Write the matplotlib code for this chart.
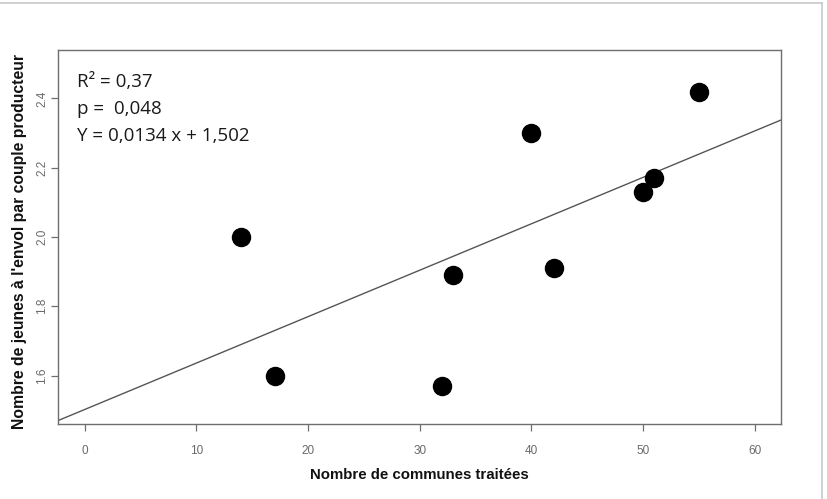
"""Scatter of fledglings per productive pair vs number of treated communes."""

import matplotlib

matplotlib.use("Agg")
import matplotlib.pyplot as plt
from matplotlib.lines import Line2D

# data
communes = [14, 17, 32, 33, 40, 42, 50, 51, 55]
jeunes = [2.00, 1.60, 1.57, 1.89, 2.30, 1.91, 2.13, 2.17, 2.42]

slope = 0.0134
intercept = 1.502
stats_lines = ["R² = 0,37", "p =  0,048", "Y = 0,0134 x + 1,502"]

x_ticks = [0, 10, 20, 30, 40, 50, 60]
y_ticks = [1.6, 1.8, 2.0, 2.2, 2.4]

xlabel = "Nombre de communes traitées"
ylabel = "Nombre de jeunes à l'envol par couple producteur"

axis_grey = "#6e6e6e"
tick_grey = "#6a6a6a"

W, H = 827, 499
fig = plt.figure(figsize=(W / 100, H / 100), dpi=100)
ax = fig.add_axes([58 / W, 1 - 424 / H, (781.3 - 58) / W, (424 - 50) / H])

ax.plot(communes, jeunes, "o", color="black", markersize=13, zorder=3)
ax.axline((0, intercept), slope=slope, color="#555555", linewidth=1.0, zorder=2)

# R-style 4 % padding around (0, 60) and (1.5, 2.5)
ax.set_xlim(-2.4, 62.4)
ax.set_ylim(1.46, 2.54)

ax.set_xticks(x_ticks)
ax.set_yticks(y_ticks)
ax.set_xticklabels([str(t) for t in x_ticks])
ax.set_yticklabels([f"{t:.1f}" for t in y_ticks], rotation=90, va="center")

for side in ax.spines.values():
    side.set_color(axis_grey)
    side.set_linewidth(1.0)

ax.tick_params(axis="both", direction="out", length=5, width=0.9, color=axis_grey,
               labelcolor=tick_grey, labelsize=8.5)
ax.tick_params(axis="x", pad=10)
ax.tick_params(axis="y", pad=2)
for lab in ax.get_xticklabels() + ax.get_yticklabels():
    lab.set_family("Liberation Sans")

ax.set_xlabel(xlabel, family="Liberation Sans", fontweight="bold", fontsize=10.8,
              labelpad=8, color="#111111")
ax.set_ylabel(ylabel, family="Liberation Sans", fontweight="bold", fontsize=11.3,
              labelpad=8, color="#111111")
ax.yaxis.set_label_coords(-0.043, 0.488)

for i, txt in enumerate(stats_lines):
    fig.text(77 / W, 1 - (82 + 27 * i) / H, txt, fontsize=13.5, family="Open Sans",
             va="center", ha="left", color="#1a1a1a")

# light frame pieces at the edge of the original screenshot
fig.add_artist(Line2D([0, 822 / W], [1 - 3 / H, 1 - 3 / H], transform=fig.transFigure,
                      color="#c8c8c8", linewidth=1.2))
fig.add_artist(Line2D([822 / W, 822 / W], [0, 1 - 3 / H], transform=fig.transFigure,
                      color="#c8c8c8", linewidth=1.2))

fig.savefig("out.png", dpi=100)
